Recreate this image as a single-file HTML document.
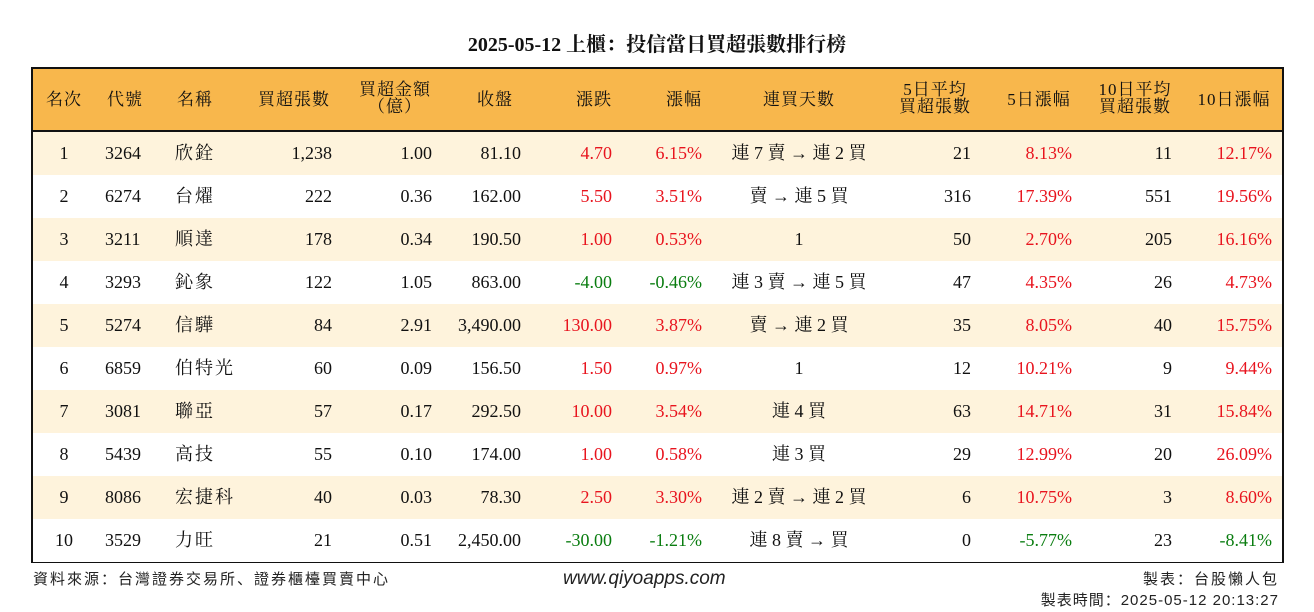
<!DOCTYPE html>
<html><head><meta charset="utf-8">
<style>
body{margin:0;width:1314px;height:612px;background:#fff;position:relative;overflow:hidden;font-family:"Liberation Serif","Noto Serif CJK SC",serif;color:#111}
#title{position:absolute;left:0;width:1314px;top:28px;text-align:center;font-size:20px;font-weight:bold}
#box{position:absolute;left:31px;top:67px;width:1249px;height:492px;border:2px solid #111}
#head{position:absolute;left:0;top:0;width:1249px;height:61px;background:#F8B74C;border-bottom:2px solid #111}
.c{position:absolute;white-space:nowrap;font-size:18px;line-height:22px}
.h{font-size:17px;line-height:17px;text-align:center;letter-spacing:1px}
.cj{letter-spacing:2px}
.row{position:absolute;left:0;width:1249px;height:43px}
.red{color:#e8141e}.green{color:#0a7d10}
.foot{position:absolute;font-family:"Liberation Sans","Noto Sans CJK SC",sans-serif;font-size:15px;color:#222;letter-spacing:1px}
</style></head><body>
<div id="title">2025-05-12 上櫃：投信當日買超張數排行榜</div>
<div id="box"><div id="head"></div></div>
<div class="foot" style="left:33px;top:568px;letter-spacing:2px">資料來源：台灣證券交易所、證券櫃檯買賣中心</div>
<div class="foot" style="left:563px;top:568px;font-style:italic;font-size:19px;letter-spacing:0">www.qiyoapps.com</div>
<div class="foot" style="right:35px;top:568px;letter-spacing:2px">製表：台股懶人包</div>
<div class="foot" style="right:35px;top:589px">製表時間：2025-05-12 20:13:27</div>
<script>
const ranks=["1","2","3","4","5","6","7","8","9","10"];
const codes=["3264","6274","3211","3293","5274","6859","3081","5439","8086","3529"];
const names=["欣銓","台燿","順達","鈊象","信驊","伯特光","聯亞","高技","宏捷科","力旺"];
const buyLots=["1,238","222","178","122","84","60","57","55","40","21"];
const buyAmt=["1.00","0.36","0.34","1.05","2.91","0.09","0.17","0.10","0.03","0.51"];
const closes=["81.10","162.00","190.50","863.00","3,490.00","156.50","292.50","174.00","78.30","2,450.00"];
const changes=["4.70","5.50","1.00","-4.00","130.00","1.50","10.00","1.00","2.50","-30.00"];
const pct=["6.15%","3.51%","0.53%","-0.46%","3.87%","0.97%","3.54%","0.58%","3.30%","-1.21%"];
const streak=["連 7 賣 → 連 2 買","賣 → 連 5 買","1","連 3 賣 → 連 5 買","賣 → 連 2 買","1","連 4 買","連 3 買","連 2 賣 → 連 2 買","連 8 賣 → 買"];
const avg5=["21","316","50","47","35","12","63","29","6","0"];
const pct5=["8.13%","17.39%","2.70%","4.35%","8.05%","10.21%","14.71%","12.99%","10.75%","-5.77%"];
const avg10=["11","551","205","26","40","9","31","20","3","23"];
const pct10=["12.17%","19.56%","16.16%","4.73%","15.75%","9.44%","15.84%","26.09%","8.60%","-8.41%"];
const headers=["名次","代號","名稱","買超張數","買超金額<br>（億）","收盤","漲跌","漲幅","連買天數","5日平均<br>買超張數","5日漲幅","10日平均<br>買超張數","10日漲幅"];
const headerNames=["rank","code","name","buy-lots","buy-amount","close","change","change-pct","streak","avg5","pct5","avg10","pct10"];
const hc=[31,92,162,261,362,462,561,651,766,902,1006,1102,1201];
const cols=[["c",31],["l",72],["l",142],["r",299],["r",399],["r",488],["r",579],["r",669],["c",766],["r",938],["r",1039],["r",1139],["r",1239]];
const box=document.getElementById('box'),head=document.getElementById('head');
headers.forEach((t,i)=>{const d=document.createElement('div');d.className='c h';d.innerHTML=t;


const two=t.includes('<br>');d.style.left=(hc[i]-60)+'px';d.style.width='120px';d.style.top=(two?12:22)+'px';head.appendChild(d);});
const data=[ranks,codes,names,buyLots,buyAmt,closes,changes,pct,streak,avg5,pct5,avg10,pct10];
for(let r=0;r<10;r++){const row=document.createElement('div');row.className='row';


row.style.top=(63+r*43)+'px';row.style.background=r%2==0?'#FEF3DC':'#fff';box.appendChild(row);
data.forEach((arr,i)=>{const d=document.createElement('div');d.className='c';d.textContent=arr[r];


if(i==2)d.classList.add('cj');
d.style.top='10px';const [a,x]=cols[i];
if(a=='l')d.style.left=x+'px';else if(a=='r'){d.style.right=(1249-x)+'px';}else{d.style.left=(x-100)+'px';d.style.width='200px';d.style.textAlign='center';}
if([6,7,10,12].includes(i)){d.classList.add(arr[r].startsWith('-')?'green':'red');}
row.appendChild(d);});}
</script>
</body></html>
